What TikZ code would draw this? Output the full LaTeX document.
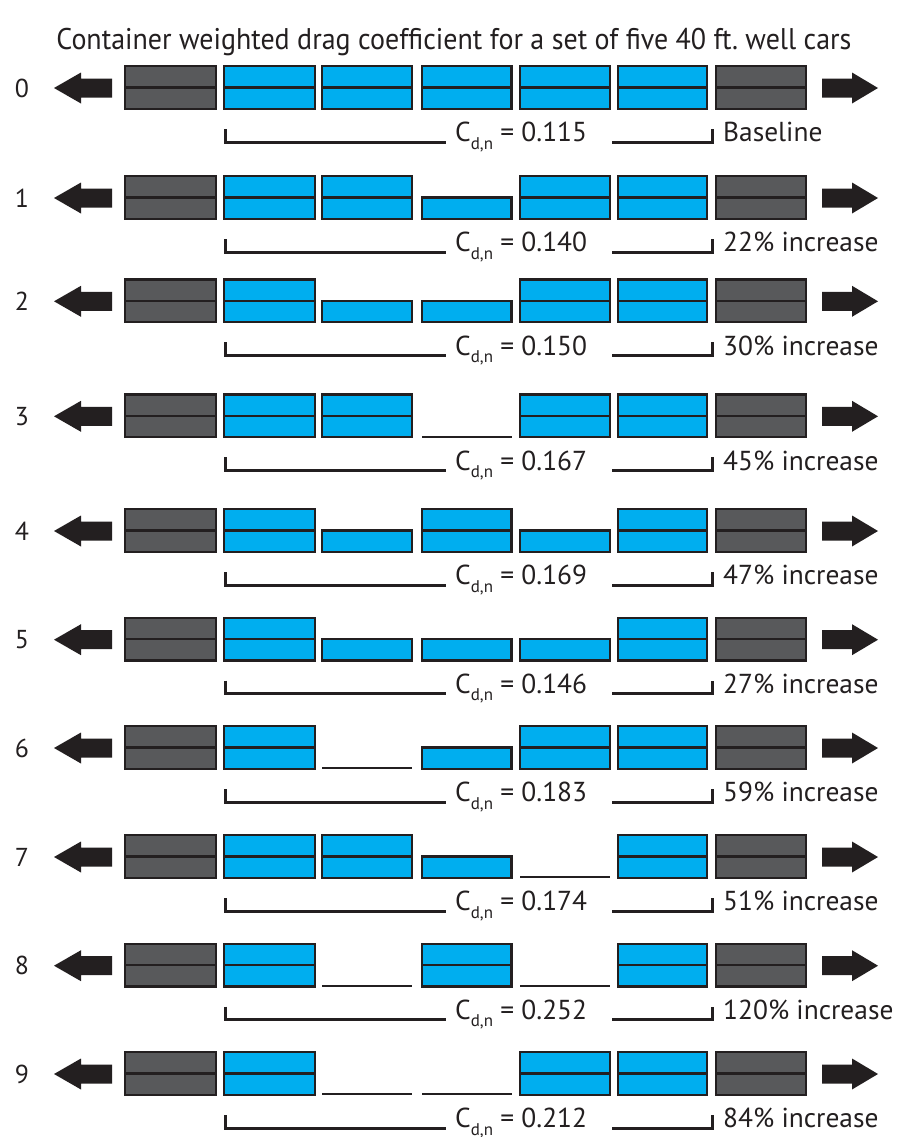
\documentclass[tikz,border=0pt]{standalone}
\usepackage{fontspec}
\usepackage{graphicx}
\setmainfont{PT Sans}
\definecolor{ink}{HTML}{231F20}
\definecolor{boxgray}{HTML}{58595B}
\definecolor{cyanbox}{HTML}{00AEEF}

\tikzset{
  container/.style={draw=ink, line width=2.4bp},
  emptyslot/.style={draw=ink, line width=2bp},
  bracket/.style={draw=ink, line width=3bp},
  pusharrow/.style={fill=ink, draw=none},
  rownum/.style={text=ink, font=\fontsize{26}{26}\selectfont, inner sep=0pt},
  cdtext/.style={text=ink, font=\fontsize{27.5}{27.5}\selectfont, inner sep=0pt, anchor=base west},
  resulttext/.style={text=ink, font=\fontsize{27.5}{27.5}\selectfont, inner sep=0pt, anchor=base west},
}

% one slot of a well car: #1 left edge, #2 right edge, #3 top of the row
\newcommand\slotG[3]{%
  \filldraw[container, fill=boxgray] (#1+1.2,#3+1.2) rectangle (#2-1.2,#3+43.8);
  \draw[container] (#1+1.2,#3+22.5) -- (#2-1.2,#3+22.5);}
\newcommand\slotF[3]{%
  \filldraw[container, fill=cyanbox] (#1+1.2,#3+1.2) rectangle (#2-1.2,#3+43.8);
  \draw[container] (#1+1.2,#3+22.5) -- (#2-1.2,#3+22.5);}
\newcommand\slotH[3]{%
  \filldraw[container, fill=cyanbox] (#1+1.2,#3+22.5) rectangle (#2-1.2,#3+43.8);}
\newcommand\slotE[3]{%
  \draw[emptyslot] (#1+1,#3+43.3) -- (#2-1,#3+43.3);}

\begin{document}
\begin{tikzpicture}[x=1bp,y=-1bp]
\fill[white] (0,0) rectangle (898,1137);
\useasboundingbox (0,0) rectangle (898,1137);

\node[text=ink, inner sep=0pt, anchor=base] (title) at (454,49)
  {\resizebox{795bp}{\height}{\fontsize{30}{30}\selectfont Container weighted drag coefficient for a set of five 40 ft.\ well cars}};

\foreach \n/\t/\pA/\pB/\pC/\pD/\pE/\cd/\lab in {
  0/65/F/F/F/F/F/0.115/Baseline,
  1/175/F/F/H/F/F/0.140/22\% increase,
  2/278.3/F/H/H/F/F/0.150/30\% increase,
  3/393.3/F/F/E/F/F/0.167/45\% increase,
  4/508/F/H/F/H/F/0.169/47\% increase,
  5/616.7/F/H/H/H/F/0.146/27\% increase,
  6/725/F/E/H/F/F/0.183/59\% increase,
  7/834/F/F/H/E/F/0.174/51\% increase,
  8/942.7/F/E/F/E/F/0.252/120\% increase,
  9/1051/F/E/E/F/F/0.212/84\% increase}{
  % end cars and the five well-car slots
  \slotG{124}{217}{\t}
  \csname slot\pA\endcsname{222.5}{316}{\t}
  \csname slot\pB\endcsname{321}{413}{\t}
  \csname slot\pC\endcsname{421}{512.5}{\t}
  \csname slot\pD\endcsname{519}{611}{\t}
  \csname slot\pE\endcsname{617}{708}{\t}
  \slotG{715}{807}{\t}
  % direction arrows
  \fill[pusharrow] (54,\t+23) -- (81,\t+7.5) -- (81,\t+13.5) -- (112,\t+13.5)
    -- (112,\t+32.5) -- (81,\t+32.5) -- (81,\t+38.5) -- cycle;
  \fill[pusharrow] (878,\t+23) -- (852,\t+7.5) -- (852,\t+13.5) -- (822,\t+13.5)
    -- (822,\t+32.5) -- (852,\t+32.5) -- (852,\t+38.5) -- cycle;
  % labels
  \node[rownum] (num\n) at (22,\t+23) {\n};
  \node[cdtext] (cd\n) at (455,\t+76.7)
    {C\raisebox{-7.5bp}{\fontsize{17}{17}\selectfont d,n} = \cd};
  \node[resulttext] (res\n) at (723,\t+76.7) {\lab};
  % bracket
  \coordinate (bl\n) at (225,\t+64);
  \coordinate (br\n) at (712,\t+64);
  \draw[bracket] (bl\n) -- ++(0,13) -- (446,\t+77);
  \draw[bracket] (612,\t+77) -- (712,\t+77) -- (br\n);
}
\end{tikzpicture}
\end{document}
